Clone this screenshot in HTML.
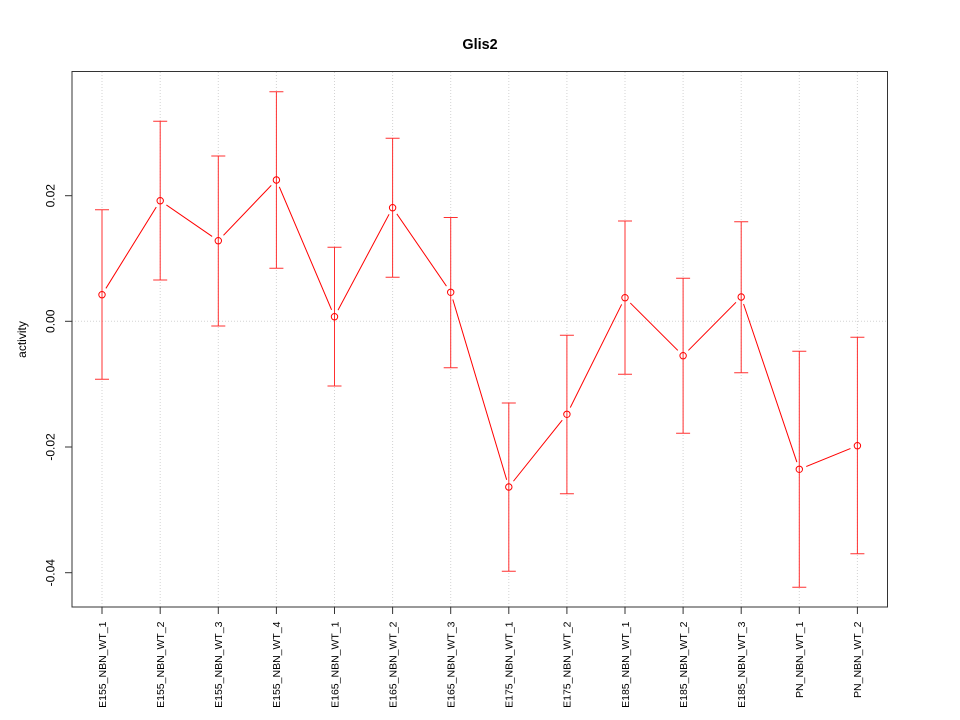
<!DOCTYPE html>
<html>
<head>
<meta charset="utf-8">
<style>
html,body{margin:0;padding:0;background:#fff;}
svg{display:block;}
text{font-family:"Liberation Sans",Arial,sans-serif;fill:#000;}
</style>
</head>
<body>
<svg width="960" height="720" viewBox="0 0 960 720" xmlns="http://www.w3.org/2000/svg">
<defs>
<mask id="gapmask" maskUnits="userSpaceOnUse" x="0" y="0" width="960" height="720">
<rect x="0" y="0" width="960" height="720" fill="#fff"/>
<g fill="#000">
<circle cx="102" cy="294.7" r="7.5"/>
<circle cx="160.2" cy="200.7" r="7.5"/>
<circle cx="218.3" cy="240.7" r="7.5"/>
<circle cx="276.4" cy="180" r="7.5"/>
<circle cx="334.5" cy="316.7" r="7.5"/>
<circle cx="392.6" cy="207.7" r="7.5"/>
<circle cx="450.7" cy="292.3" r="7.5"/>
<circle cx="508.8" cy="487" r="7.5"/>
<circle cx="566.9" cy="414.3" r="7.5"/>
<circle cx="625" cy="297.7" r="7.5"/>
<circle cx="683.1" cy="355.7" r="7.5"/>
<circle cx="741.2" cy="297" r="7.5"/>
<circle cx="799.3" cy="469.3" r="7.5"/>
<circle cx="857.4" cy="445.7" r="7.5"/>
</g>
</mask>
</defs>
<rect x="0" y="0" width="960" height="720" fill="#fff"/>

<!-- grid -->
<g stroke="#d3d3d3" stroke-width="1" stroke-dasharray="1,2" fill="none">
<line x1="102" y1="72" x2="102" y2="607"/>
<line x1="160.2" y1="72" x2="160.2" y2="607"/>
<line x1="218.3" y1="72" x2="218.3" y2="607"/>
<line x1="276.4" y1="72" x2="276.4" y2="607"/>
<line x1="334.5" y1="72" x2="334.5" y2="607"/>
<line x1="392.6" y1="72" x2="392.6" y2="607"/>
<line x1="450.7" y1="72" x2="450.7" y2="607"/>
<line x1="508.8" y1="72" x2="508.8" y2="607"/>
<line x1="566.9" y1="72" x2="566.9" y2="607"/>
<line x1="625" y1="72" x2="625" y2="607"/>
<line x1="683.1" y1="72" x2="683.1" y2="607"/>
<line x1="741.2" y1="72" x2="741.2" y2="607"/>
<line x1="799.3" y1="72" x2="799.3" y2="607"/>
<line x1="857.4" y1="72" x2="857.4" y2="607"/>
<line x1="72" y1="321.3" x2="887" y2="321.3"/>
</g>

<!-- error bars -->
<g stroke="#ff3030" stroke-width="1" fill="none">
<path d="M102 209.7V379.3M95 209.7H109M95 379.3H109"/>
<path d="M160.2 121.3V280M153.2 121.3H167.2M153.2 280H167.2"/>
<path d="M218.3 156V326M211.3 156H225.3M211.3 326H225.3"/>
<path d="M276.4 91.7V268.3M269.4 91.7H283.4M269.4 268.3H283.4"/>
<path d="M334.5 247.3V386M327.5 247.3H341.5M327.5 386H341.5"/>
<path d="M392.6 138.3V277.3M385.6 138.3H399.6M385.6 277.3H399.6"/>
<path d="M450.7 217.5V367.7M443.7 217.5H457.7M443.7 367.7H457.7"/>
<path d="M508.8 403V571.3M501.8 403H515.8M501.8 571.3H515.8"/>
<path d="M566.9 335.3V493.7M559.9 335.3H573.9M559.9 493.7H573.9"/>
<path d="M625 221V374.3M618 221H632M618 374.3H632"/>
<path d="M683.1 278.3V433.3M676.1 278.3H690.1M676.1 433.3H690.1"/>
<path d="M741.2 221.7V372.7M734.2 221.7H748.2M734.2 372.7H748.2"/>
<path d="M799.3 351.3V587.3M792.3 351.3H806.3M792.3 587.3H806.3"/>
<path d="M857.4 337.3V553.7M850.4 337.3H864.4M850.4 553.7H864.4"/>
</g>

<!-- connecting line with gaps -->
<polyline mask="url(#gapmask)" fill="none" stroke="#ff0000" stroke-width="1"
points="102,294.7 160.2,200.7 218.3,240.7 276.4,180 334.5,316.7 392.6,207.7 450.7,292.3 508.8,487 566.9,414.3 625,297.7 683.1,355.7 741.2,297 799.3,469.3 857.4,445.7"/>

<!-- points -->
<g fill="none" stroke="#ff0000" stroke-width="1">
<circle cx="102" cy="294.7" r="3.2"/>
<circle cx="160.2" cy="200.7" r="3.2"/>
<circle cx="218.3" cy="240.7" r="3.2"/>
<circle cx="276.4" cy="180" r="3.2"/>
<circle cx="334.5" cy="316.7" r="3.2"/>
<circle cx="392.6" cy="207.7" r="3.2"/>
<circle cx="450.7" cy="292.3" r="3.2"/>
<circle cx="508.8" cy="487" r="3.2"/>
<circle cx="566.9" cy="414.3" r="3.2"/>
<circle cx="625" cy="297.7" r="3.2"/>
<circle cx="683.1" cy="355.7" r="3.2"/>
<circle cx="741.2" cy="297" r="3.2"/>
<circle cx="799.3" cy="469.3" r="3.2"/>
<circle cx="857.4" cy="445.7" r="3.2"/>
</g>

<!-- box -->
<rect x="72" y="71.5" width="815.5" height="535.5" fill="none" stroke="#333" stroke-width="1"/>

<!-- y ticks -->
<g stroke="#333" stroke-width="1">
<line x1="65" y1="195.7" x2="72" y2="195.7"/>
<line x1="65" y1="321.3" x2="72" y2="321.3"/>
<line x1="65" y1="447" x2="72" y2="447"/>
<line x1="65" y1="572.7" x2="72" y2="572.7"/>
</g>
<g font-size="12" text-anchor="middle">
<text transform="translate(54.5,195.7) rotate(-90)">0.02</text>
<text transform="translate(54.5,321.3) rotate(-90)">0.00</text>
<text transform="translate(54.5,447) rotate(-90)">-0.02</text>
<text transform="translate(54.5,572.7) rotate(-90)">-0.04</text>
</g>

<!-- x ticks -->
<g stroke="#333" stroke-width="1">
<line x1="102" y1="607" x2="102" y2="614"/>
<line x1="160.2" y1="607" x2="160.2" y2="614"/>
<line x1="218.3" y1="607" x2="218.3" y2="614"/>
<line x1="276.4" y1="607" x2="276.4" y2="614"/>
<line x1="334.5" y1="607" x2="334.5" y2="614"/>
<line x1="392.6" y1="607" x2="392.6" y2="614"/>
<line x1="450.7" y1="607" x2="450.7" y2="614"/>
<line x1="508.8" y1="607" x2="508.8" y2="614"/>
<line x1="566.9" y1="607" x2="566.9" y2="614"/>
<line x1="625" y1="607" x2="625" y2="614"/>
<line x1="683.1" y1="607" x2="683.1" y2="614"/>
<line x1="741.2" y1="607" x2="741.2" y2="614"/>
<line x1="799.3" y1="607" x2="799.3" y2="614"/>
<line x1="857.4" y1="607" x2="857.4" y2="614"/>
</g>
<g font-size="10.5" text-anchor="end">
<text transform="translate(105.8,621.5) rotate(-90)">E155_NBN_WT_1</text>
<text transform="translate(164,621.5) rotate(-90)">E155_NBN_WT_2</text>
<text transform="translate(222.1,621.5) rotate(-90)">E155_NBN_WT_3</text>
<text transform="translate(280.2,621.5) rotate(-90)">E155_NBN_WT_4</text>
<text transform="translate(338.3,621.5) rotate(-90)">E165_NBN_WT_1</text>
<text transform="translate(396.4,621.5) rotate(-90)">E165_NBN_WT_2</text>
<text transform="translate(454.5,621.5) rotate(-90)">E165_NBN_WT_3</text>
<text transform="translate(512.6,621.5) rotate(-90)">E175_NBN_WT_1</text>
<text transform="translate(570.7,621.5) rotate(-90)">E175_NBN_WT_2</text>
<text transform="translate(628.8,621.5) rotate(-90)">E185_NBN_WT_1</text>
<text transform="translate(686.9,621.5) rotate(-90)">E185_NBN_WT_2</text>
<text transform="translate(745,621.5) rotate(-90)">E185_NBN_WT_3</text>
<text transform="translate(803.1,621.5) rotate(-90)">PN_NBN_WT_1</text>
<text transform="translate(861.2,621.5) rotate(-90)">PN_NBN_WT_2</text>
</g>

<!-- axis label -->
<text transform="translate(26,339.5) rotate(-90)" font-size="12" text-anchor="middle">activity</text>

<!-- title -->
<text x="480" y="49" font-size="14.4" font-weight="bold" text-anchor="middle">Glis2</text>
</svg>
</body>
</html>
